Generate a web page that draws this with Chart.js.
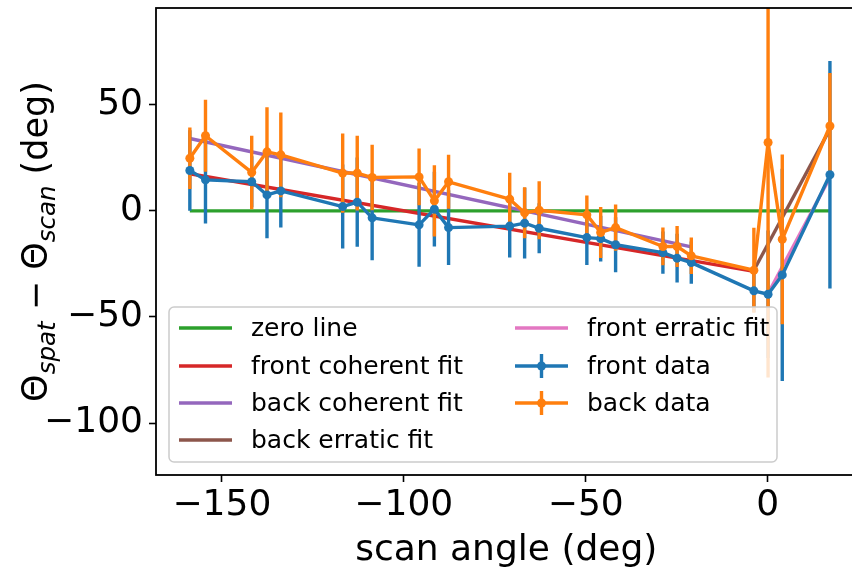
<!DOCTYPE html>
<html>
<head>
<meta charset="utf-8">
<script src="https://cdn.jsdelivr.net/npm/chart.js@4.4.0/dist/chart.umd.min.js"></script>
<style>
  html, body { margin: 0; padding: 0; background: #fff; overflow: hidden; }
  #wrap { width: 861px; height: 576px; }
</style>
</head>
<body>
<div id="wrap"><canvas id="offsetchart" width="861" height="576"></canvas></div>
<script>
// scan angles shared by front and back measurements (deg)
const scanAngle = [-158.8, -154.5, -141.8, -137.6, -133.8, -116.8, -112.8, -108.7,
  -95.8, -91.6, -87.7, -70.9, -66.8, -62.8, -49.7, -45.9, -41.8,
  -28.8, -24.9, -21.0, -3.8, 0.1, 4.0, 17.1];

const frontOffset = [19.0, 14.6, 13.7, 7.5, 9.4, 2.0, 4.1, -3.3,
  -6.6, 0.8, -7.9, -7.2, -5.8, -8.2, -12.6, -13.1, -16.0,
  -19.7, -22.3, -24.4, -37.7, -39.3, -30.2, 17.0];
const frontErr = [19, 20.6, 12, 20.4, 17.3, 19.8, 21, 20,
  19.7, 17.6, 17.6, 14.8, 16.7, 11.8, 12.9, 10.8, 13,
  10, 11.5, 10, 10, 30, 50, 53.6];

const backOffset = [24.8, 35.4, 18.1, 27.8, 26.4, 17.8, 17.8, 15.7,
  16.0, 4.7, 13.7, 5.5, -0.9, 0.3, -1.9, -10.2, -7.9,
  -16.8, -16.8, -21.2, -28.0, 32.2, -13.4, 40.0];
const backErr = [14.5, 17, 17.3, 21, 20, 18.7, 17.6, 15.4,
  13.4, 16.8, 12.7, 12.4, 12, 13.7, 9.1, 12, 10.9,
  8.9, 9.7, 8.6, 20, 110.8, 40, 25];

// fitted lines, end points only
const zeroX = [-158.8, 17.1];
const zeroY = [0, 0];
const frontCohX = [-158.8, -3.8];
const frontCohY = [17.5, -28.5];
const backCohX = [-158.8, -21.0];
const backCohY = [34.1, -17.0];
const backErrFitX = [-3.8, 17.1];
const backErrFitY = [-28.0, 38.5];
const frontErrFitX = [0.1, 17.1];
const frontErrFitY = [-39.0, 15.7];

const xTicks = [-150, -100, -50, 0];
const yTicks = [-100, -50, 0, 50];

const FONT = "'DejaVu Sans', sans-serif";

function pts(xs, ys) {
  return xs.map((x, i) => ({ x: x, y: ys[i] }));
}

function minus(v) {
  return v < 0 ? '\u2212' + Math.abs(v) : String(v);
}

function fitLine(label, xs, ys, color, order) {
  return {
    label: label, data: pts(xs, ys), borderColor: color, backgroundColor: color,
    borderWidth: 3.4, pointRadius: 0, fill: false, tension: 0, order: order
  };
}

function dataLine(label, ys, errs, color, order) {
  return {
    label: label, data: pts(scanAngle, ys), errors: errs,
    borderColor: color, backgroundColor: color, borderWidth: 3.4,
    borderJoinStyle: 'round', pointRadius: 4.5, pointBorderWidth: 0,
    pointBackgroundColor: color, fill: false, tension: 0, order: order
  };
}

const datasets = [
  fitLine('zero line', zeroX, zeroY, '#2ca02c', 10),
  fitLine('front coherent fit', frontCohX, frontCohY, '#d62728', 9),
  fitLine('back coherent fit', backCohX, backCohY, '#9467bd', 8),
  fitLine('back erratic fit', backErrFitX, backErrFitY, '#8c564b', 7),
  fitLine('front erratic fit', frontErrFitX, frontErrFitY, '#e377c2', 6),
  dataLine('front data', frontOffset, frontErr, '#1f77b4', 2),
  dataLine('back data', backOffset, backErr, '#ff7f0e', 1)
];

// vertical error bars go under both data lines, over the fits
const errorBars = {
  id: 'errorBars',
  beforeDatasetDraw(chart, args) {
    if (args.index !== 5) return;
    const { ctx, chartArea, scales } = chart;
    ctx.save();
    ctx.beginPath();
    ctx.rect(chartArea.left, chartArea.top, chartArea.width, chartArea.height);
    ctx.clip();
    chart.data.datasets.forEach(ds => {
      if (!ds.errors) return;
      ctx.strokeStyle = ds.borderColor;
      ctx.lineWidth = 3.4;
      ds.data.forEach((p, i) => {
        const px = scales.x.getPixelForValue(p.x);
        ctx.beginPath();
        ctx.moveTo(px, scales.y.getPixelForValue(p.y - ds.errors[i]));
        ctx.lineTo(px, scales.y.getPixelForValue(p.y + ds.errors[i]));
        ctx.stroke();
      });
    });
    ctx.restore();
  }
};

// axes frame
const spines = {
  id: 'spines',
  afterDatasetsDraw(chart) {
    const { ctx, chartArea: a } = chart;
    ctx.save();
    ctx.strokeStyle = '#000';
    ctx.lineWidth = 1.8;
    ctx.strokeRect(a.left, a.top, a.right - a.left, a.bottom - a.top);
    ctx.restore();
  }
};

// rotated y title with italic subscripts
const yTitle = {
  id: 'yTitle',
  afterDraw(chart) {
    const ctx = chart.ctx;
    const big = '35px ' + FONT;
    const sub = 'italic 24.5px ' + FONT;
    const parts = [
      { t: '\u0398', f: big, dy: 0 },
      { t: 'spat', f: sub, dy: 7.5 },
      { t: ' \u2212 ', f: big, dy: 0 },
      { t: '\u0398', f: big, dy: 0 },
      { t: 'scan', f: sub, dy: 7.5 },
      { t: ' (deg)', f: big, dy: 0 }
    ];
    ctx.save();
    let total = 0;
    parts.forEach(p => { ctx.font = p.f; p.w = ctx.measureText(p.t).width; total += p.w; });
    const a = chart.chartArea;
    ctx.translate(47, (a.top + a.bottom) / 2);
    ctx.rotate(-Math.PI / 2);
    ctx.fillStyle = '#000';
    ctx.textBaseline = 'alphabetic';
    let x = -total / 2;
    parts.forEach(p => {
      ctx.font = p.f;
      ctx.fillText(p.t, x, p.dy);
      x += p.w;
    });
    ctx.restore();
  }
};

// two-column legend box
const legendBox = {
  id: 'legendBox',
  afterDraw(chart) {
    const ctx = chart.ctx;
    const box = { left: 169, top: 307, right: 777, bottom: 462 };
    const handleX = [179, 515];
    const textX = [251, 587];
    const rowY = [328, 366, 403, 440];
    ctx.save();
    ctx.beginPath();
    ctx.roundRect(box.left, box.top, box.right - box.left, box.bottom - box.top, 5);
    ctx.fillStyle = 'rgba(255,255,255,0.8)';
    ctx.fill();
    ctx.strokeStyle = '#cccccc';
    ctx.lineWidth = 1.5;
    ctx.stroke();
    ctx.font = '25px ' + FONT;
    ctx.textBaseline = 'middle';
    chart.data.datasets.forEach((ds, i) => {
      const col = i < 4 ? 0 : 1;
      const row = i < 4 ? i : i - 4;
      const x0 = handleX[col], y0 = rowY[row];
      ctx.strokeStyle = ds.borderColor;
      ctx.lineWidth = 3.4;
      ctx.beginPath();
      ctx.moveTo(x0, y0);
      ctx.lineTo(x0 + 53, y0);
      ctx.stroke();
      if (ds.errors) {
        ctx.beginPath();
        ctx.moveTo(x0 + 26.5, y0 - 12);
        ctx.lineTo(x0 + 26.5, y0 + 12);
        ctx.stroke();
        ctx.beginPath();
        ctx.arc(x0 + 26.5, y0, 4.5, 0, Math.PI * 2);
        ctx.fillStyle = ds.borderColor;
        ctx.fill();
      }
      ctx.fillStyle = '#000';
      ctx.fillText(ds.label, textX[col], y0 + 1);
    });
    ctx.restore();
  }
};

new Chart(document.getElementById('offsetchart'), {
  type: 'line',
  data: { datasets: datasets },
  options: {
    responsive: false,
    animation: false,
    layout: { padding: { top: 8, right: 0, left: 0, bottom: 0 } },
    plugins: {
      legend: { display: false },
      tooltip: { enabled: false }
    },
    scales: {
      x: {
        type: 'linear',
        min: -168.1,
        max: 24.4,
        afterBuildTicks: s => { s.ticks = xTicks.map(v => ({ value: v })); },
        afterFit: s => { s.height = 101; s.paddingLeft = 0; s.paddingRight = 0; },
        ticks: {
          color: '#000', font: { family: FONT, size: 36 }, padding: 2,
          maxRotation: 0, autoSkip: false, callback: v => minus(v)
        },
        grid: {
          drawOnChartArea: false, drawTicks: true, tickLength: 7,
          tickWidth: 1.6, tickColor: '#000'
        },
        border: { display: false },
        title: {
          display: true, text: 'scan angle (deg)', color: '#000',
          font: { family: FONT, size: 36 }, padding: { top: 0, bottom: 4 }
        }
      },
      y: {
        type: 'linear',
        min: -124.5,
        max: 95.6,
        afterBuildTicks: s => { s.ticks = yTicks.map(v => ({ value: v })); },
        afterFit: s => { s.width = 156; s.paddingTop = 0; s.paddingBottom = 0; },
        ticks: {
          color: '#000', font: { family: FONT, size: 36 }, padding: 6,
          autoSkip: false, callback: v => minus(v)
        },
        grid: {
          drawOnChartArea: false, drawTicks: true, tickLength: 7,
          tickWidth: 1.6, tickColor: '#000'
        },
        border: { display: false }
      }
    }
  },
  plugins: [errorBars, spines, yTitle, legendBox]
});
</script>
</body>
</html>
